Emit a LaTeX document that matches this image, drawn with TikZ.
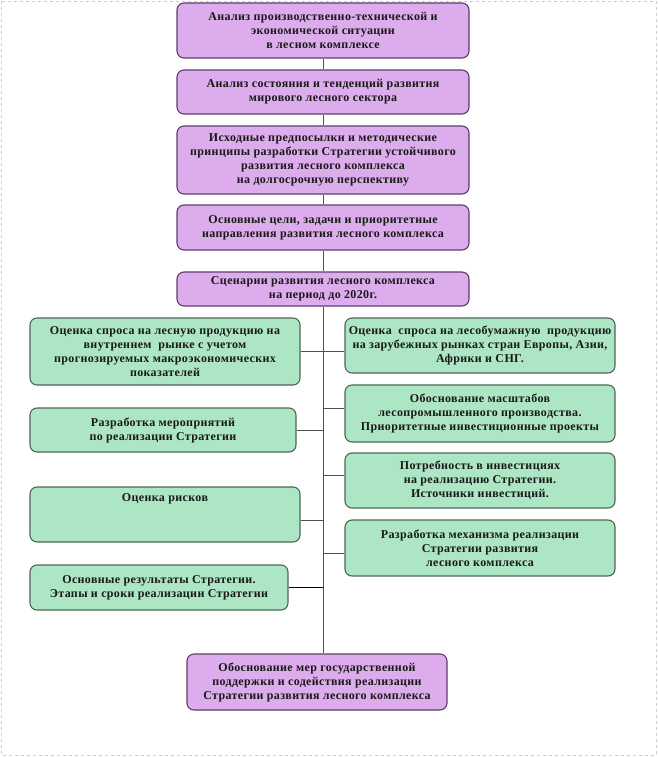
\documentclass[tikz,border=0pt]{standalone}
\usepackage{fontspec}
\setmainfont{Liberation Serif}[LetterSpace=3]

\definecolor{lilac}{RGB}{221,172,236}
\definecolor{lilacline}{RGB}{92,62,104}
\definecolor{mint}{RGB}{172,230,196}
\definecolor{mintline}{RGB}{78,102,86}
\definecolor{wirecol}{RGB}{80,80,80}

\tikzset{
	box/.style={rounded corners=7pt, line width=1.1pt, align=center, inner sep=2pt,
		text=black!90, font=\bfseries\fontsize{12}{14}\selectfont},
	pbox/.style={box, draw=lilacline, fill=lilac, minimum width=292pt},
	gbox/.style={box, draw=mintline, fill=mint, minimum width=270pt},
	wire/.style={draw=wirecol, line width=0.9pt}
}

\begin{document}
\begin{tikzpicture}[x=1pt,y=-1pt]
\useasboundingbox (0,0) rectangle (658,757);
\draw[black!20, dashed] (1,1) rectangle (656,755);

% main column
\node[pbox, minimum height=55pt] (s1) at (323,30.5) {Анализ производственно-технической и\\ экономической ситуации\\ в лесном комплексе};
\node[pbox, minimum height=44pt] (s2) at (323,92) {Анализ состояния и тенденций развития\\ мирового лесного сектора};
\node[pbox, minimum height=68pt] (s3) at (323,160) {Исходные предпосылки и методические\\ принципы разработки Стратегии устойчивого\\ развития лесного комплекса\\ на долгосрочную перспективу};
\node[pbox, minimum height=45pt] (s4) at (323,227.5) {Основные цели, задачи и приоритетные\\ направления развития лесного комплекса};
\node[pbox, minimum height=34pt] (s5) at (323,289) {Сценарии развития лесного комплекса\\ на период до 2020г.};
\node[pbox, minimum width=260pt, minimum height=56pt] (fin) at (317,682) {Обоснование мер государственной\\ поддержки и содействия реализации\\ Стратегии развития лесного комплекса};

% left side
\node[gbox, minimum height=67pt] (l1) at (165,351.5) {Оценка спроса на лесную продукцию на\\ внутреннем\ \ рынке с учетом\\ прогнозируемых макроэкономических\\ показателей};
\node[gbox, minimum width=266pt, minimum height=44pt] (l2) at (163,430) {Разработка мероприятий\\ по реализации Стратегии};
\node[gbox, minimum height=55pt, text height=8pt, text depth=35pt] (l3) at (165,514.5) {Оценка рисков};
\node[gbox, minimum width=258pt, minimum height=45pt] (l4) at (159,587.5) {Основные результаты Стратегии.\\ Этапы и сроки реализации Стратегии};

% right side
\node[gbox, minimum height=55pt] (r1) at (480,345.5) {Оценка\ \ спроса на лесобумажную\ \ продукцию\\ на зарубежных рынках стран Европы, Азии,\\ Африки и СНГ.};
\node[gbox, minimum height=57pt] (r2) at (480,413.5) {Обоснование масштабов\\ лесопромышленного производства.\\ Приоритетные инвестиционные проекты};
\node[gbox, minimum height=55pt] (r3) at (480,480.5) {Потребность в инвестициях\\ на реализацию Стратегии.\\ Источники инвестиций.};
\node[gbox, minimum height=56pt] (r4) at (480,548) {Разработка механизма реализации\\ Стратегии развития\\ лесного комплекса};

\foreach \a/\b in {s1/s2, s2/s3, s3/s4, s4/s5}
	\draw[wire] (\a.south) -- (\b.north);
\draw[wire] (s5.south) -- (s5.south |- fin.north);

\draw[wire] (l1.east) -- (l1.east -| r1.west);
\draw[wire] (l2.east) -- (l2.east -| s5.south);
\draw[wire] ([yshift=-5.5pt]l3.east) -- ([yshift=-5.5pt]l3.east -| s5.south);
\draw[wire, draw=black] (l4.east) -- (l4.east -| s5.south);
\draw[wire] ([yshift=5.5pt]r2.west) -- ([yshift=5.5pt]r2.west -| s5.south);
\draw[wire] ([yshift=5.5pt]r3.west) -- ([yshift=5.5pt]r3.west -| s5.south);
\draw[wire] ([yshift=-5pt]r4.west) -- ([yshift=-5pt]r4.west -| s5.south);
\end{tikzpicture}
\end{document}
